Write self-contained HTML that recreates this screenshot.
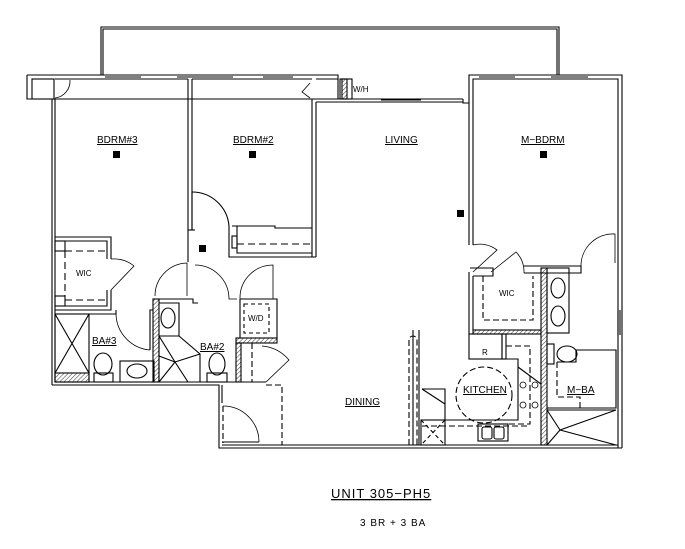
<!DOCTYPE html>
<html><head><style>
html,body{margin:0;padding:0;background:#fff;width:685px;height:549px;overflow:hidden}
svg{display:block}
text{font-family:"Liberation Sans",sans-serif;fill:#000}
</style></head><body>
<svg width="685" height="549" viewBox="0 0 685 549" xmlns="http://www.w3.org/2000/svg">
<defs>
<pattern id="h" width="3" height="3" patternUnits="userSpaceOnUse" patternTransform="rotate(45)"><line x1="0" y1="0" x2="0" y2="3" stroke="#000" stroke-width="0.8"/></pattern>
</defs>
<g fill="none" stroke="#000" stroke-width="1.1">
<polyline points="101,75 101,27 559,27 559,75"/>
<polyline points="103,75 103,29 557,29 557,75"/>
<polyline points="27,75 338,75 338,99 27,99 27,75"/>
<rect x="32" y="79" width="22" height="20"/>
<line x1="55" y1="79" x2="188" y2="79"/>
<line x1="192" y1="79" x2="312" y2="79"/>
<line x1="316" y1="79" x2="338" y2="79"/>
<line x1="105" y1="77" x2="141" y2="77"/><line x1="177" y1="77" x2="233" y2="77"/><line x1="263" y1="77" x2="293" y2="77"/>
<rect x="340" y="79" width="12" height="20"/>
<rect x="342" y="79" width="5" height="20" fill="url(#h)"/>
<line x1="316" y1="99" x2="463" y2="99"/><line x1="316" y1="102" x2="463" y2="102"/>
<line x1="381" y1="100" x2="421" y2="100"/>
<polyline points="463,99 463,103 469,103"/>
<polyline points="469,245 469,75 622,75 622,448"/>
<polyline points="473,245 473,79 618,79 618,448"/>
<line x1="479" y1="77" x2="515" y2="77"/><line x1="551" y1="77" x2="588" y2="77"/>
<line x1="52" y1="99" x2="52" y2="385"/><line x1="55" y1="99" x2="55" y2="382"/>
<line x1="188" y1="79" x2="188" y2="262"/><line x1="192" y1="79" x2="192" y2="230"/>
<line x1="188" y1="230" x2="195" y2="230"/>
<line x1="312" y1="99" x2="312" y2="257"/><line x1="316" y1="102" x2="316" y2="257"/>
<polyline points="229,226 229,257 316,257"/>
<polyline points="232,226 237,226 237,253 312,253"/>
<polyline points="237,226 275,226 275,228 312,228"/>
<rect x="232" y="236" width="5" height="12"/>
<line x1="237" y1="244" x2="312" y2="244" stroke-dasharray="7,4"/>
<line x1="192" y1="192" x2="192" y2="230"/>
<path d="M192,192 A37,37 0 0 1 229,226"/>
<path d="M55,98 A17,17 0 0 0 70,80" stroke-width="0.8"/>
<path d="M310,98 L302,92 L310,83" stroke-width="0.8"/>
<polyline points="55,237 111,237 111,259"/>
<polyline points="55,241 107,241 107,259"/>
<polyline points="55,306 107,306 107,290"/><polyline points="55,310 111,310 111,290"/>
<rect x="55" y="241" width="10" height="10"/><rect x="55" y="296" width="10" height="10"/>
<polyline points="65,251 65,296" stroke-dasharray="7,4"/>
<polyline points="65,251 107,251" stroke-dasharray="7,4"/>
<polyline points="65,300 107,300" stroke-dasharray="7,4"/>
<path d="M111,259 A32,32 0 0 1 134,266 L111,290" stroke-width="0.8"/>
<rect x="55" y="314" width="34" height="68"/>
<line x1="55" y1="314" x2="89" y2="373"/><line x1="89" y1="314" x2="55" y2="373"/>
<rect x="55" y="373" width="34" height="9" fill="url(#h)"/>
<polyline points="89,314 116,314 116,310"/>
<path d="M116,314 A37,37 0 0 0 150,350" stroke-width="0.8"/>
<ellipse cx="103" cy="364" rx="9" ry="11"/><rect x="94" y="373" width="19" height="9"/>
<rect x="120" y="361" width="34" height="21"/><ellipse cx="137" cy="371" rx="10" ry="7"/>
<polyline points="150,350 150,310 153,310"/>
<rect x="153" y="299" width="6" height="83" fill="url(#h)"/>
<polyline points="153,299 193,299 193,303 198,303"/>
<polyline points="159,303 179,303 179,336"/>
<ellipse cx="168" cy="318" rx="7" ry="10"/>
<polygon points="159,336 179,336 200,354 200,382 159,382"/>
<line x1="159" y1="336" x2="175" y2="362"/><line x1="175" y1="362" x2="200" y2="354"/><line x1="175" y1="362" x2="159" y2="382"/><line x1="175" y1="362" x2="188" y2="382"/><line x1="159" y1="356" x2="175" y2="362"/>
<ellipse cx="217" cy="364" rx="8" ry="11"/><rect x="207" y="373" width="20" height="9"/>
<path d="M155,296 A33,33 0 0 1 187,263 L187,296" stroke-width="0.8"/>
<path d="M195,265 A34,34 0 0 1 229,298 L229,299 L237,299" stroke-width="0.8"/>
<polyline points="240,299 277,299 277,338 236,338"/>
<line x1="240" y1="299" x2="240" y2="338"/>
<rect x="244" y="304" width="25" height="29" stroke-dasharray="4,3"/>
<path d="M240,299 A33,33 0 0 1 273,265 L273,299" stroke-width="0.8"/>
<rect x="236" y="338" width="41" height="5" fill="url(#h)"/>
<rect x="236" y="343" width="5" height="39" fill="url(#h)"/>
<polyline points="252,343 252,382" stroke-dasharray="6,3"/>
<path d="M262,346 A40,40 0 0 1 289,360 L266,382" stroke-width="0.8"/>
<polyline points="52,385 219,385 219,448 622,448"/>
<polyline points="55,382 266,382"/>
<polyline points="222,385 222,403"/><polyline points="222,445 618,445"/>
<polyline points="266,385 282,385 282,445" stroke-dasharray="6,3"/>
<polyline points="223,406 223,443" stroke-dasharray="6,3"/>
<path d="M223,406 A36,36 0 0 1 259,442" stroke-width="0.8"/>
<line x1="222" y1="442" x2="259" y2="442"/>
<path d="M473,245 A28,28 0 0 1 497,250 L473,272" stroke-width="0.8"/>
<path d="M491,272 L516,252 A28,28 0 0 1 524,273" stroke-width="0.8"/>
<path d="M581,266 A32,32 0 0 1 615,234 L615,263" stroke-width="0.8"/>
<polyline points="469,272 469,334 541,334"/>
<polyline points="473,276 493,276 493,268 470,268"/>
<polyline points="524,266 581,266 581,273 524,273"/>
<line x1="473" y1="276" x2="473" y2="330"/>
<polyline points="483,276 483,320 533,320 533,276" stroke-dasharray="6,3"/>
<rect x="473" y="330" width="68" height="4" fill="url(#h)"/>
<rect x="541" y="268" width="6" height="177" fill="url(#h)"/>
<rect x="547" y="268" width="22" height="65"/>
<ellipse cx="558" cy="288" rx="7" ry="10"/><ellipse cx="558" cy="316" rx="7" ry="10"/>
<line x1="618" y1="310" x2="618" y2="335"/><line x1="620" y1="310" x2="620" y2="335"/>
<rect x="469" y="334" width="33" height="25"/>
<rect x="502" y="334" width="4" height="25"/>
<polyline points="506,346 530,346 530,424 506,424" stroke-dasharray="6,3"/>
<polyline points="502,359 518,359 518,420 445,420 445,389 422,389"/>
<circle cx="484" cy="395" r="28" stroke-dasharray="6,3"/>
<line x1="518" y1="367" x2="541" y2="384"/>
<line x1="422" y1="389" x2="445" y2="404"/>
<polyline points="422,426 530,426" stroke-dasharray="6,3"/>
<rect x="421" y="420" width="24" height="25"/>
<line x1="421" y1="420" x2="445" y2="445" stroke-dasharray="4,3"/><line x1="445" y1="420" x2="421" y2="445" stroke-dasharray="4,3"/>
<rect x="478" y="424" width="30" height="17"/>
<rect x="482" y="427" width="10" height="12" rx="2"/><rect x="494" y="427" width="10" height="12" rx="2"/>
<path d="M409,445 L409,340 A4,4 0 0 1 417,340 L417,445" stroke-dasharray="6,3"/>
<line x1="413" y1="330" x2="413" y2="445"/><line x1="419" y1="330" x2="419" y2="445"/>
<g stroke-width="0.8">
<circle cx="523" cy="385" r="3"/><circle cx="535" cy="385" r="3"/><circle cx="523" cy="405" r="3"/><circle cx="535" cy="405" r="3"/>
</g>
<rect x="547" y="344" width="7" height="20"/>
<ellipse cx="567" cy="354" rx="10" ry="8"/>
<polyline points="557,362 576,362 576,350 616,350 616,408 547,408"/>
<polyline points="557,362 557,397 580,397 580,408" stroke-dasharray="6,3"/>
<line x1="547" y1="408" x2="616" y2="408"/><line x1="547" y1="410" x2="616" y2="410"/>
<line x1="547" y1="410" x2="560" y2="430"/><line x1="560" y1="430" x2="616" y2="410"/><line x1="560" y1="430" x2="547" y2="445"/><line x1="560" y1="430" x2="616" y2="445"/>
</g>
<g>
<rect x="113" y="151" width="7" height="7"/><rect x="249" y="151" width="7" height="7"/><rect x="540" y="151" width="7" height="7"/><rect x="457" y="210" width="7" height="7"/><rect x="199" y="245" width="7" height="7"/>
</g>
<g font-size="10">
<text x="97" y="143" text-decoration="underline">BDRM#3</text>
<text x="233" y="143" text-decoration="underline">BDRM#2</text>
<text x="385" y="143" text-decoration="underline">LIVING</text>
<text x="521" y="143" text-decoration="underline">M−BDRM</text>
<text x="92" y="344" text-decoration="underline">BA#3</text>
<text x="200" y="350" text-decoration="underline">BA#2</text>
<text x="463" y="393" text-decoration="underline">KITCHEN</text>
<text x="567" y="393" text-decoration="underline">M−BA</text>
<text x="345" y="405" text-decoration="underline">DINING</text>
</g>
<g font-size="8">
<text x="76" y="276">WIC</text>
<text x="499" y="296">WIC</text>
<text x="248" y="321">W/D</text>
<text x="482" y="355">R</text>
<text x="353" y="92">W/H</text>
</g>
<text x="331" y="498" font-size="13" text-decoration="underline" letter-spacing="1">UNIT 305−PH5</text>
<text x="360" y="526" font-size="10" letter-spacing="1">3 BR + 3 BA</text>
</svg>
</body></html>
